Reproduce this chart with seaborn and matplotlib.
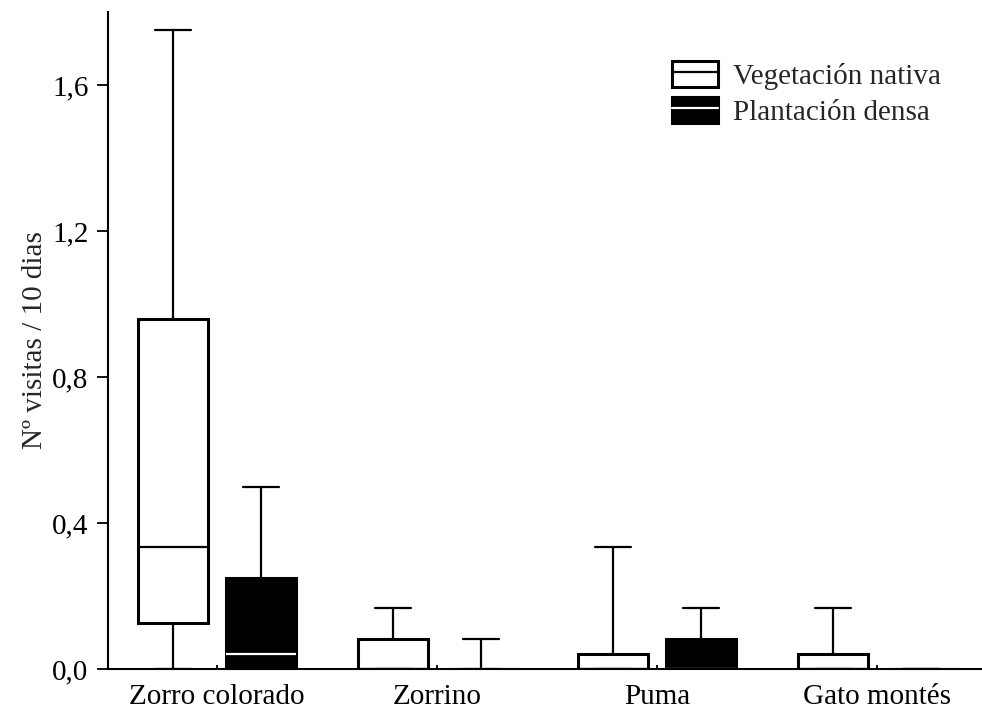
import numpy as np
import pandas as pd
import seaborn as sns
import matplotlib
matplotlib.use("Agg")
import matplotlib.pyplot as plt
from matplotlib.patches import Patch
from matplotlib.lines import Line2D

# Five-number summaries (min, Q1, median, Q3, max) of visits per 10 days
especies = ["Zorro colorado", "Zorrino", "Puma", "Gato montés"]
habitats = ["Vegetación nativa", "Plantación densa"]

nativa_min = [0.0, 0.0, 0.0, 0.0]
nativa_q1 = [0.125, 0.0, 0.0, 0.0]
nativa_med = [0.333, 0.0, 0.0, 0.0]
nativa_q3 = [0.958, 0.083, 0.04, 0.04]
nativa_max = [1.75, 0.167, 0.333, 0.167]

densa_min = [0.0, 0.0, 0.0, 0.0]
densa_q1 = [0.0, 0.0, 0.0, 0.0]
densa_med = [0.042, 0.0, 0.0, 0.0]
densa_q3 = [0.25, 0.0, 0.083, 0.0]
densa_max = [0.5, 0.083, 0.167, 0.0]

yticks = [0.0, 0.4, 0.8, 1.2, 1.6]
ytick_labels = ["0,0", "0,4", "0,8", "1,2", "1,6"]


def summary_rows(habitat, mins, q1s, meds, q3s, maxs):
    # Five ordered values per group reproduce the summary exactly
    rows = []
    for i, sp in enumerate(especies):
        for v in (mins[i], q1s[i], meds[i], q3s[i], maxs[i]):
            rows.append({"especie": sp, "habitat": habitat, "visitas": v})
    return rows


df_nat = pd.DataFrame(summary_rows(habitats[0], nativa_min, nativa_q1, nativa_med, nativa_q3, nativa_max))
df_den = pd.DataFrame(summary_rows(habitats[1], densa_min, densa_q1, densa_med, densa_q3, densa_max))

sns.set_theme(style="ticks")
plt.rcParams["font.family"] = ["Liberation Serif", "DejaVu Serif"]
FS = 21
plt.rcParams["font.size"] = FS

fig = plt.figure(figsize=(9.82, 7.11), dpi=100)
ax = fig.add_axes([108 / 982, 42 / 711, 1 - 108 / 982, (669 - 12) / 711])

palette = {habitats[0]: "white", habitats[1]: "black"}
common = dict(x="especie", y="visitas", hue="habitat", order=especies,
              hue_order=habitats, palette=palette, width=0.8, gap=0.2,
              dodge=True, whis=(0, 100), linecolor="black", linewidth=2.2,
              legend=False, ax=ax, saturation=1,
              whiskerprops=dict(linewidth=1.6), capprops=dict(linewidth=1.6))

sns.boxplot(data=df_nat, medianprops=dict(color="black", linewidth=1.6), **common)
sns.boxplot(data=df_den, medianprops=dict(color="white", linewidth=1.6), **common)

ax.set_xlim(-0.495, 3.477)
ax.set_ylim(0, 1.8)
ax.set_yticks(yticks)
ax.set_yticklabels(ytick_labels)
ax.set_xlabel("")
ax.set_ylabel("Nº visitas / 10 dias", fontsize=FS, labelpad=3)

for side in ("top", "right"):
    ax.spines[side].set_visible(False)
for side in ("left", "bottom"):
    ax.spines[side].set_linewidth(1.5)
    ax.spines[side].set_color("black")

ax.tick_params(axis="y", direction="out", length=8, width=1.3, labelsize=FS, pad=6, colors="black")
ax.tick_params(axis="x", direction="in", length=3, width=1.3, labelsize=FS, pad=11, colors="black")

handles = [
    (Patch(facecolor="white", edgecolor="black", linewidth=2.2), Line2D([], [], color="black", linewidth=1.6)),
    (Patch(facecolor="black", edgecolor="black", linewidth=2.2), Line2D([], [], color="white", linewidth=1.6)),
]
ax.legend(handles, habitats, loc="upper left", bbox_to_anchor=(0.645, 0.926),
          frameon=False, fontsize=FS, handlelength=1.6, handleheight=1.0,
          handletextpad=0.5, labelspacing=0.25, borderpad=0, borderaxespad=0)

fig.savefig("out.png", dpi=100)
